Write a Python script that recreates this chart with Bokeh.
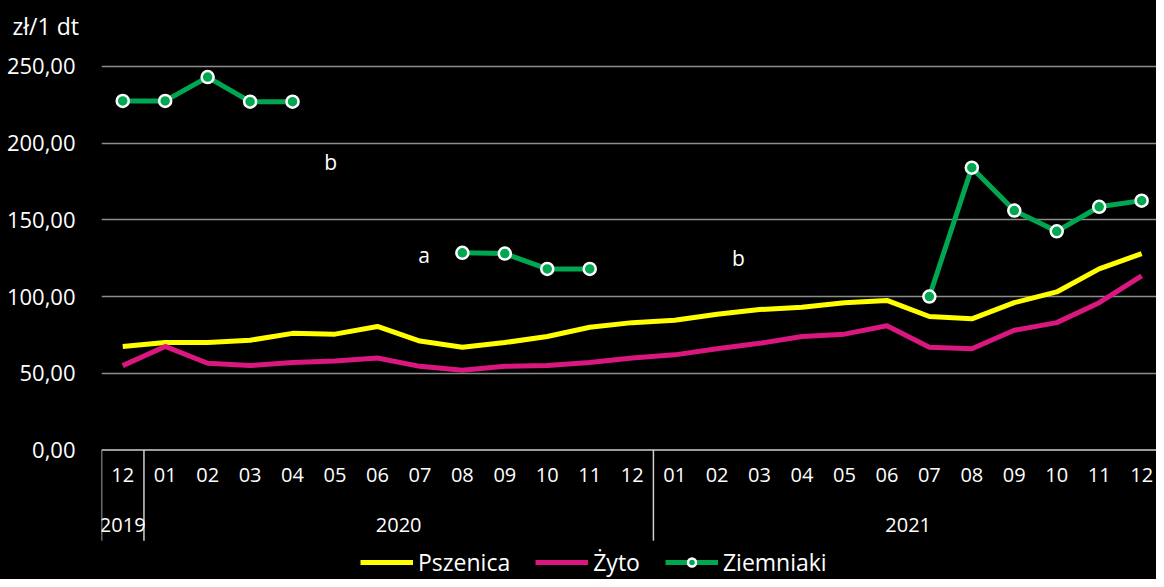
from bokeh.plotting import figure
from bokeh.models import (FixedTicker, Span, Legend, LegendItem, Range1d,
                          CustomJSTickFormatter)
from bokeh.embed import file_html
from bokeh.resources import INLINE
from bokeh.core.properties import value

nan = float("nan")

# ---------------- data ----------------
months = ["12", "01", "02", "03", "04", "05", "06", "07", "08", "09", "10", "11",
          "12", "01", "02", "03", "04", "05", "06", "07", "08", "09", "10", "11", "12"]
years = ["2019", "2020", "2021"]
year_counts = [1, 12, 12]

pszenica = [67.5, 70.0, 70.0, 71.5, 76.0, 75.5, 80.5, 71.0, 67.0, 70.0, 74.0, 80.0,
            83.0, 84.5, 88.5, 91.5, 93.0, 96.0, 97.5, 87.0, 85.5, 96.0, 103.0, 118.0, 128.0]
zyto = [55.0, 67.5, 56.5, 55.0, 57.0, 58.0, 60.0, 54.5, 52.0, 54.5, 55.0, 57.0,
        60.0, 62.0, 66.0, 69.5, 74.0, 75.5, 81.0, 67.0, 66.0, 78.0, 83.0, 96.0, 113.5]
ziemniaki = [227.5, 227.5, 243.0, 227.0, 227.0, nan, nan, nan, 128.5, 128.0, 118.0, 118.0,
             nan, nan, nan, nan, nan, nan, nan, 100.0, 184.0, 156.0, 142.5, 158.5, 162.5]

y_ticks = [0, 50, 100, 150, 200, 250]
grid_ticks = [50, 100, 150, 200, 250]

ann_text = ["b", "a", "b"]
ann_x = [5.4, 7.6, 15.0]
ann_y = [187.7, 127.0, 125.3]

series_names = ["Pszenica", "Żyto", "Ziemniaki"]
unit_label = "zł/1 dt"

# ---------------- style ----------------
FONT = "Open Sans"
WHITE = "white"
YELLOW = "#FFFF00"
MAGENTA = "#D9177F"
GREEN = "#00A650"

x = [i + 0.5 for i in range(len(months))]

p = figure(width=1156, height=579, output_backend="svg", toolbar_location=None,
           x_range=Range1d(0, 24.85), y_range=Range1d(-84.4, 261.0),
           min_border_left=101, min_border_right=0, min_border_top=47, min_border_bottom=0,
           background_fill_color="black", border_fill_color="black",
           outline_line_color=None, title=unit_label,
           styles={"background-color": "black"})

p.title.text_color = WHITE
p.title.text_font = FONT
p.title.text_font_size = "23px"
p.title.text_font_style = "normal"
p.title.align = "left"
p.title.offset = -89
p.title.standoff = 15

p.xaxis.visible = False
p.xgrid.visible = False
p.ygrid.ticker = FixedTicker(ticks=grid_ticks)
p.ygrid.grid_line_color = "#8c8c8c"
p.ygrid.grid_line_width = 1.5

p.yaxis.ticker = FixedTicker(ticks=y_ticks)
p.yaxis.formatter = CustomJSTickFormatter(code="return tick.toFixed(2).replace('.', ',');")
p.yaxis.axis_line_color = None
p.yaxis.major_tick_line_color = None
p.yaxis.minor_tick_line_color = None
p.yaxis.major_label_text_color = WHITE
p.yaxis.major_label_text_font = FONT
p.yaxis.major_label_text_font_size = "22px"
p.yaxis.major_label_standoff = 20

# zero line (top of category table)
p.add_layout(Span(location=0, dimension="width", line_color="#d0d0d0", line_width=1.5))

# separators between years
bounds = [0]
for c in year_counts[:-1]:
    bounds.append(bounds[-1] + c)
p.segment(x0=bounds, y0=[0] * len(bounds), x1=bounds, y1=[-59.1] * len(bounds),
          line_color="#d0d0d0", line_width=1.5)

# month labels
p.text(x=x, y=[-16.2] * len(months), text=months, text_color=WHITE,
       text_font=value(FONT), text_font_size="20px", text_align="center",
       text_baseline="middle")

# year labels
year_x = []
start = 0
for c in year_counts:
    year_x.append(start + c / 2)
    start += c
p.text(x=year_x, y=[-48.7] * len(years), text=years, text_color=WHITE,
       text_font=value(FONT), text_font_size="20px", text_align="center",
       text_baseline="middle")

# series
r_psz = p.line(x, pszenica, line_color=YELLOW, line_width=5)
r_zyto = p.line(x, zyto, line_color=MAGENTA, line_width=5)
r_zl = p.line(x, ziemniaki, line_color=GREEN, line_width=5)
r_zs = p.scatter(x, ziemniaki, size=12, fill_color=GREEN, line_color=WHITE, line_width=2.5)

# annotations
p.text(x=ann_x, y=ann_y, text=ann_text, text_color=WHITE, text_font=value(FONT),
       text_font_size="21px", text_align="center", text_baseline="middle")

legend = Legend(items=[LegendItem(label=series_names[0], renderers=[r_psz]),
                       LegendItem(label=series_names[1], renderers=[r_zyto]),
                       LegendItem(label=series_names[2], renderers=[r_zl, r_zs])],
                location=(259, 1), orientation="horizontal",
                background_fill_alpha=0, border_line_color=None,
                label_text_color=WHITE, label_text_font=FONT, label_text_font_size="23px",
                glyph_width=53, glyph_height=20, spacing=25, label_standoff=5,
                padding=0, margin=0)
p.add_layout(legend)

open("out.html", "w").write(file_html(p, INLINE))
